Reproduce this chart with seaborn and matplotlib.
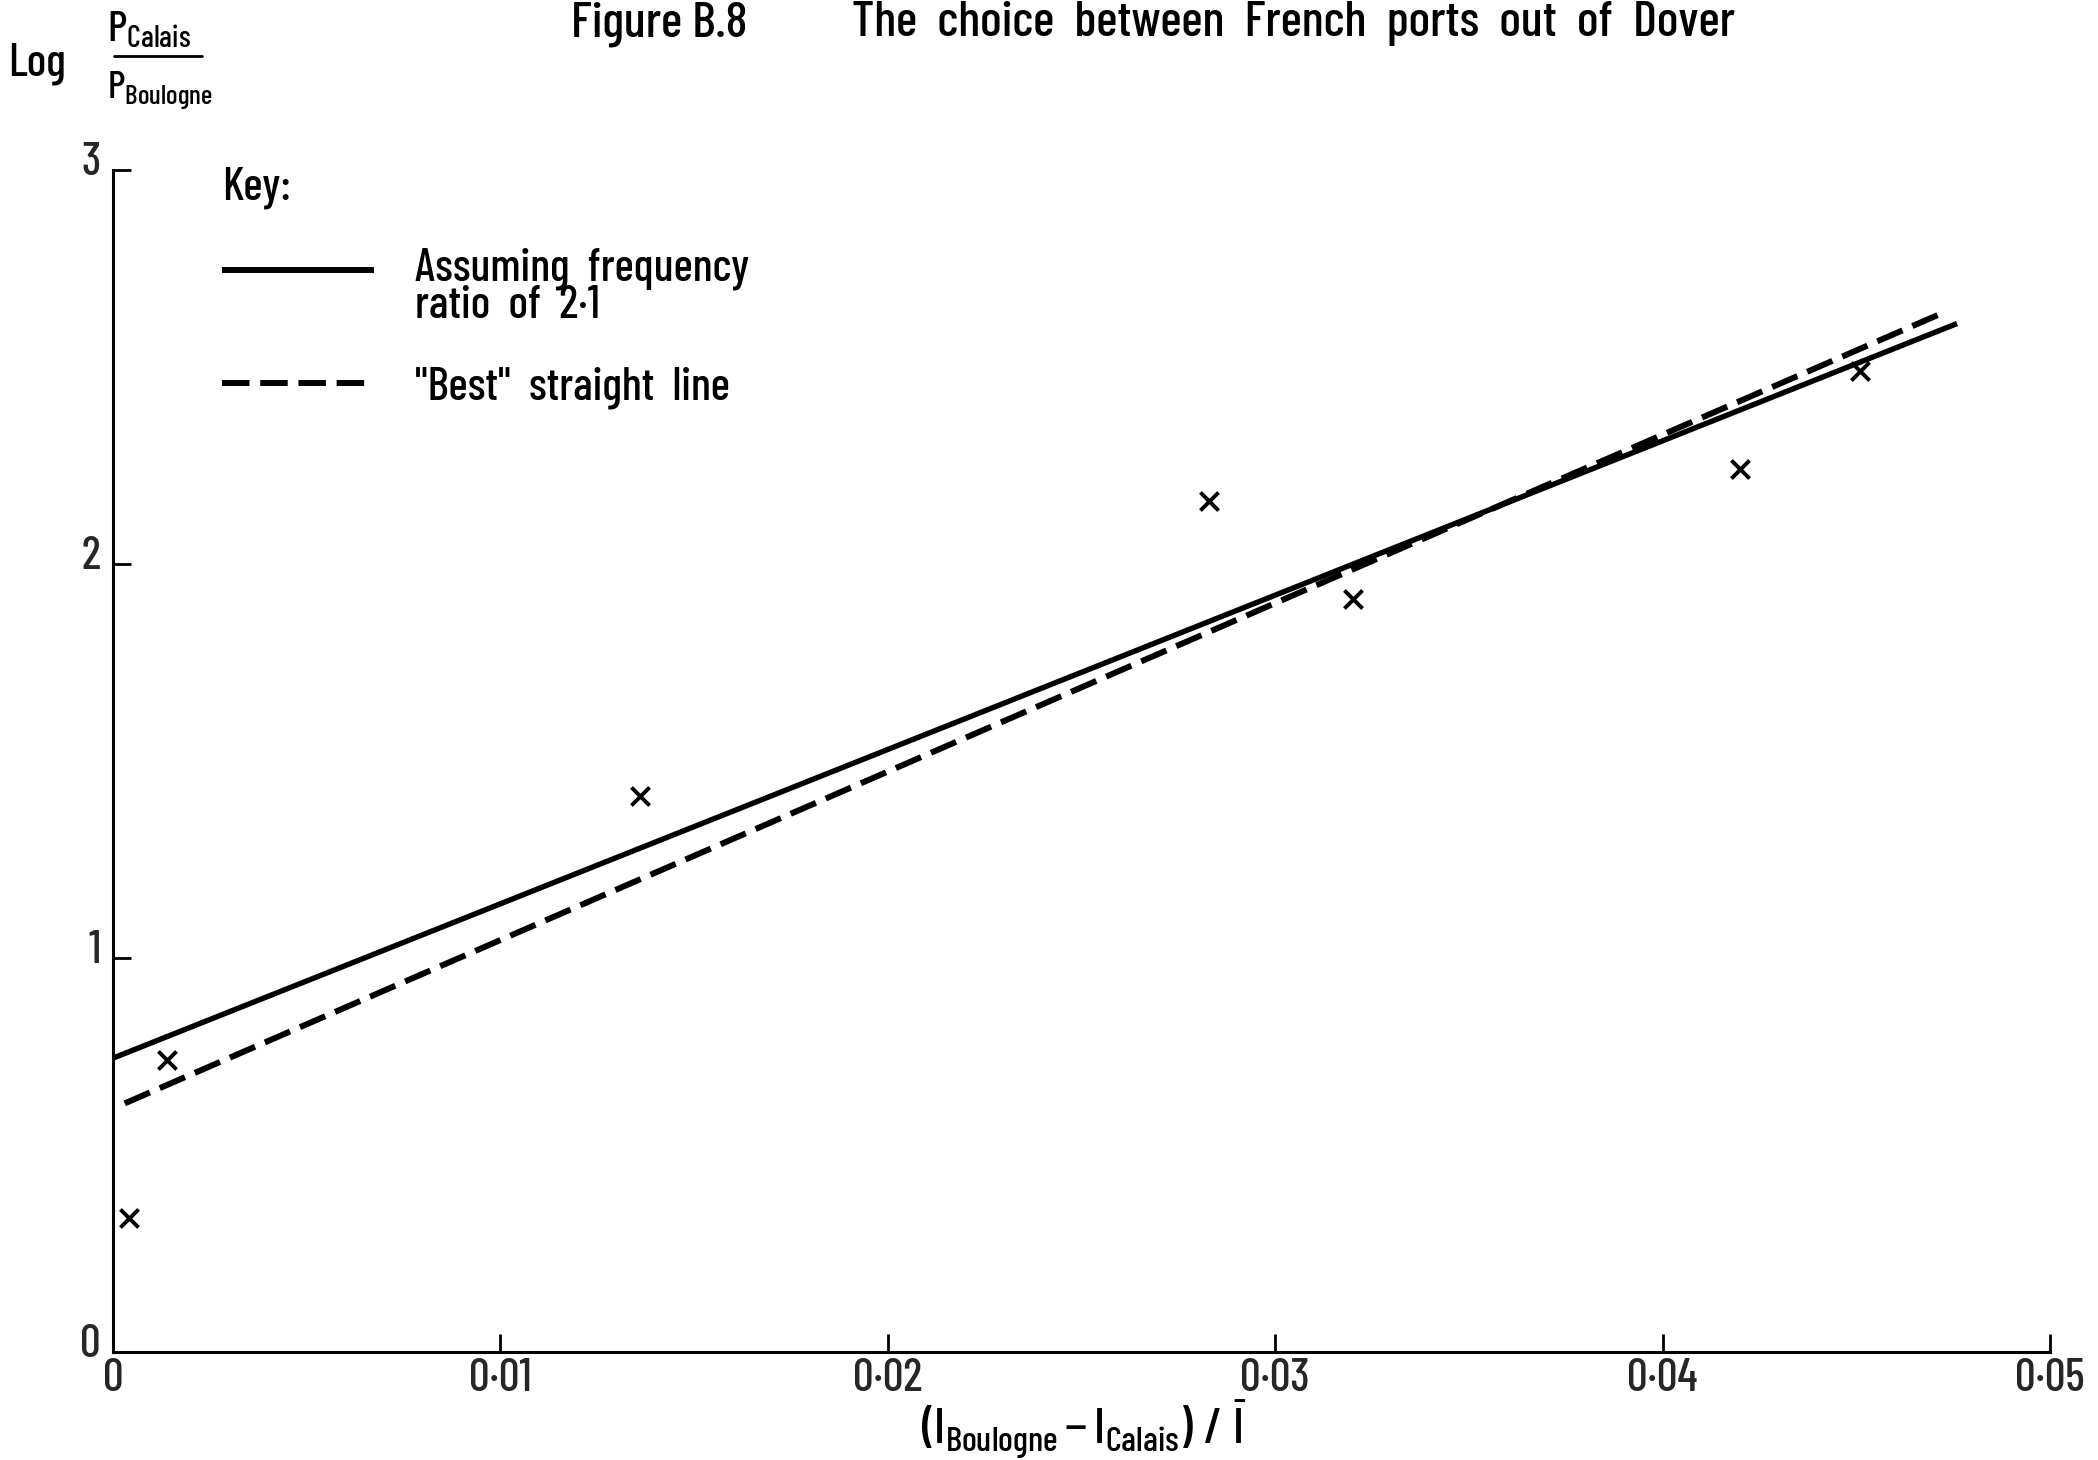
import matplotlib
matplotlib.use("Agg")
import matplotlib.pyplot as plt
import matplotlib.transforms as mtransforms
from matplotlib.lines import Line2D
import seaborn as sns
import pandas as pd

# ---- data ----
obs_x = [0.0004, 0.0014, 0.0136, 0.0283, 0.0320, 0.0420, 0.0451]
obs_y = [0.34, 0.74, 1.41, 2.16, 1.91, 2.24, 2.49]

solid_x = [0.0, 0.0476]
solid_y = [0.745, 2.61]
dashed_x = [0.0003, 0.0473]
dashed_y = [0.63, 2.64]

x_ticks = [0, 0.01, 0.02, 0.03, 0.04, 0.05]
x_tick_labels = ["0", "0·01", "0·02", "0·03", "0·04", "0·05"]
y_ticks = [0, 1, 2, 3]
y_tick_labels = ["0", "1", "2", "3"]

title_left = "Figure B.8"
title_right = "The  choice  between  French  ports  out  of  Dover"
legend_labels = ["Assuming  frequency\nratio  of  2·1", "\"Best\"  straight  line"]

# ---- style ----
sns.set_theme(style="white")
FONT = ["Barlow Condensed", "DejaVu Sans"]
plt.rcParams["font.family"] = FONT
plt.rcParams["font.weight"] = "medium"
plt.rcParams["mathtext.fontset"] = "custom"
plt.rcParams["mathtext.rm"] = "Barlow Condensed:medium"
plt.rcParams["mathtext.it"] = "Barlow Condensed:medium"
plt.rcParams["mathtext.bf"] = "Barlow Condensed:medium"
plt.rcParams["text.color"] = "black"

FS = 33

fig = plt.figure(figsize=(20.98, 14.6), dpi=100)
ax = fig.add_axes([0.0539, 0.0743, 0.9232, 0.8093])

df_obs = pd.DataFrame({"x": obs_x, "y": obs_y})
df_solid = pd.DataFrame({"x": solid_x, "y": solid_y})
df_dash = pd.DataFrame({"x": dashed_x, "y": dashed_y})

sns.lineplot(data=df_solid, x="x", y="y", ax=ax, color="black", lw=3.9,
             solid_capstyle="butt", label=legend_labels[0])
sns.lineplot(data=df_dash, x="x", y="y", ax=ax, color="black", lw=4.3,
             label=legend_labels[1])
ax.lines[-1].set_dashes((4.6, 1.8))
sns.scatterplot(data=df_obs, x="x", y="y", ax=ax, marker="x", s=170,
                color="black", linewidth=2.8, zorder=5)

ax.set_xlim(0, 0.05)
ax.set_ylim(0, 3)
ax.set_xticks(x_ticks)
ax.set_xticklabels(x_tick_labels, fontsize=FS)
ax.set_yticks(y_ticks)
ax.set_yticklabels(y_tick_labels, fontsize=FS)
ax.set_xlabel("")
ax.set_ylabel("")

for side in ["top", "right"]:
    ax.spines[side].set_visible(False)
for side in ["left", "bottom"]:
    ax.spines[side].set_color("black")
    ax.spines[side].set_linewidth(2.2)

ax.tick_params(axis="both", direction="in", length=13, width=2.0, color="black")
ax.tick_params(axis="x", pad=5)
ax.tick_params(axis="y", pad=9)
ax.tick_params(left=True, bottom=True)

# y tick labels sit slightly above their ticks
off = mtransforms.ScaledTranslation(0, 11 / 100, fig.dpi_scale_trans)
for lab in ax.get_yticklabels():
    lab.set_transform(lab.get_transform() + off)

# legend ("Key:")
handles, labels = ax.get_legend_handles_labels()
handles = [h for h, l in zip(handles, labels) if l in legend_labels]
labels = [l for l in labels if l in legend_labels]
leg = ax.legend(handles, labels, title="Key:", loc="upper left",
                bbox_to_anchor=(0.106, 0.886), bbox_transform=fig.transFigure,
                frameon=False, fontsize=FS, title_fontsize=FS,
                handlelength=3.3, handletextpad=0.9, labelspacing=0.85,
                alignment="left", borderpad=0, borderaxespad=0)
for t in leg.get_texts():
    t.set_linespacing(0.85)
leg_lines = leg.get_lines()
for lh in leg_lines:
    lh.set_linewidth(4.3)
# first handle is level with the first line of its two-line label
up = mtransforms.ScaledTranslation(0, 18 / 100, fig.dpi_scale_trans)
leg_lines[0].set_transform(leg_lines[0].get_transform() + up)

# title
fig.text(0.2723, 0.999, title_left, ha="left", va="top", fontsize=36.5)
fig.text(0.4062, 0.999, title_right, ha="left", va="top", fontsize=36.5)

# y axis label: Log P_Calais / P_Boulogne
fig.text(0.0176, 0.956, "Log", ha="center", va="center", fontsize=FS)
fig.text(0.0710, 0.980, r"$\mathregular{P_{Calais}}$", ha="center", va="center", fontsize=31)
fig.text(0.0760, 0.938, r"$\mathregular{P_{Boulogne}}$", ha="center", va="center", fontsize=28)
fig.add_artist(Line2D([0.0542, 0.0965], [0.9615, 0.9615], transform=fig.transFigure,
                      color="black", lw=2.0))

# x axis label
fig.text(0.5167, 0.0, r"$\mathregular{(I_{Boulogne} - I_{Calais})\ /\ \bar{I}}$",
         ha="center", va="bottom", fontsize=36)

fig.savefig("out.png", dpi=100, facecolor="white")
